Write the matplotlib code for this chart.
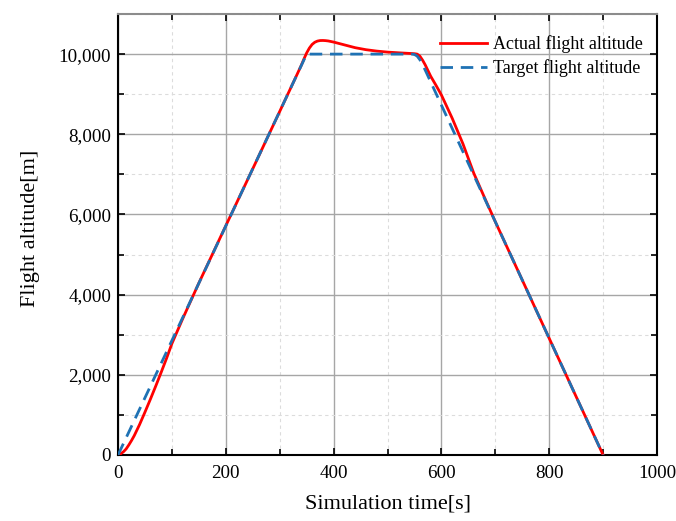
import matplotlib
matplotlib.use("Agg")
import matplotlib.pyplot as plt
from matplotlib.ticker import MultipleLocator, FuncFormatter

# Actual flight altitude (time in s, altitude in m)
actual_time = [0, 5, 10, 15, 20, 25, 30, 40, 50, 60, 70, 80, 90, 100, 120, 150,
               200, 250, 300, 330, 340, 345, 350, 355, 360, 365, 370, 375, 380,
               385, 390, 400, 410, 420, 440, 460, 480, 500, 520, 540, 550, 555,
               560, 565, 570, 580, 590, 600, 620, 640, 660, 680, 700, 750, 800,
               850, 900]
actual_alt = [0, 30, 80, 150, 250, 360, 480, 760, 1070, 1390, 1720, 2060, 2410,
              2780, 3400, 4290, 5720, 7140, 8570, 9430, 9720, 9880, 10030, 10150,
              10240, 10295, 10325, 10338, 10340, 10336, 10328, 10300, 10265,
              10230, 10160, 10110, 10075, 10050, 10033, 10018, 10010, 10000,
              9950, 9850, 9730, 9450, 9220, 8980, 8400, 7760, 7030, 6420, 5818,
              4364, 2909, 1455, 0]

# Target flight altitude
target_time = [0, 350, 545, 550, 555, 560, 565, 570, 900]
target_alt = [0, 10000, 10000, 9990, 9950, 9860, 9740, 9600, 0]

x_ticks = [0, 200, 400, 600, 800, 1000]
y_ticks = [0, 2000, 4000, 6000, 8000, 10000]

plt.rcParams['font.family'] = ['Liberation Serif', 'DejaVu Serif']
plt.rcParams['mathtext.fontset'] = 'stix'

fig = plt.figure(figsize=(6.76, 5.21), dpi=100)
ax = fig.add_axes([0.1746, 0.1267, 0.7973, 0.8464])

ax.plot(actual_time, actual_alt, color='#ff0000', lw=2.0,
        label='Actual flight altitude', zorder=3)
ax.plot(target_time, target_alt, color='#1f72b4', lw=2.0, ls=(0, (4.5, 2.8)),
        label='Target flight altitude', zorder=4)

ax.set_xlim(0, 1000)
ax.set_ylim(0, 11000)
ax.set_xticks(x_ticks)
ax.set_yticks(y_ticks)
ax.xaxis.set_minor_locator(MultipleLocator(100))
ax.yaxis.set_minor_locator(MultipleLocator(1000))
ax.yaxis.set_major_formatter(FuncFormatter(lambda v, p: f"{int(v):,}"))

ax.grid(which='major', color='#a6a6a6', lw=1.0, ls='-', zorder=0)
ax.grid(which='minor', color='#dcdcdc', lw=0.8, ls=(0, (3, 3)), zorder=0)
ax.set_axisbelow(True)

ax.tick_params(which='both', direction='in', top=True, right=True,
               labelsize=13.7, width=1.2, colors='black')
ax.tick_params(which='major', length=5)
ax.tick_params(which='minor', length=4)
ax.tick_params(axis='x', pad=7)
ax.tick_params(axis='y', pad=5)

for side in ['left', 'bottom', 'right']:
    ax.spines[side].set_linewidth(1.5)
    ax.spines[side].set_color('black')
ax.spines['top'].set_linewidth(1.5)
ax.spines['top'].set_color('#8c8c8c')

ax.set_xlabel('Simulation time[s]', fontsize=16, labelpad=9)
ax.set_ylabel('Flight altitude[m]', fontsize=16)
ax.yaxis.set_label_coords(-0.145, 0.515)

ax.legend(loc='upper right', frameon=False, fontsize=13, handlelength=2.6,
          handletextpad=0.3, labelspacing=0.35, borderaxespad=0.4,
          bbox_to_anchor=(1.0, 0.985))

fig.savefig('out.png', dpi=100)
